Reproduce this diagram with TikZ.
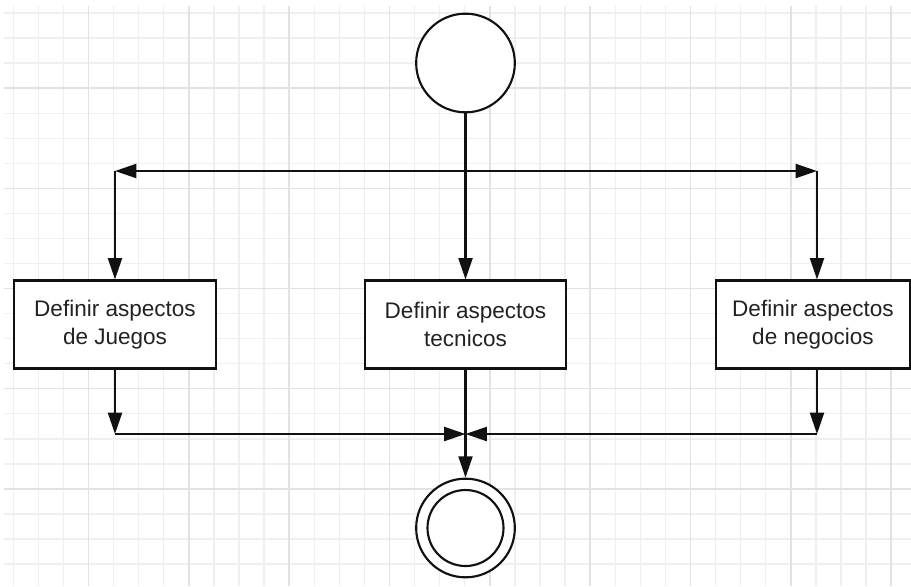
\documentclass[tikz,border=0pt]{standalone}
\usepackage{fontspec}
\setmainfont{Liberation Sans}
\usetikzlibrary{arrows.meta}
\definecolor{gridminor}{HTML}{EFEFEF}
\definecolor{gridmajor}{HTML}{E2E2E2}
\definecolor{ink}{HTML}{111111}
\definecolor{txt}{HTML}{222222}
\begin{document}
\begin{tikzpicture}[x=0.75pt,y=-0.75pt,
  minorline/.style={draw=gridminor,line width=1pt},
  majorline/.style={draw=gridmajor,line width=1.1pt},
  conn/.style={draw=ink,line width=1.6pt,-{Triangle[length=16pt,width=10.5pt]}},
  biconn/.style={draw=ink,line width=1.6pt,{Triangle[length=16pt,width=10.5pt]}-{Triangle[length=16pt,width=10.5pt]}},
  state/.style={circle,draw=ink,line width=1.6pt,fill=white,minimum size=74pt,inner sep=0pt},
  activity/.style={rectangle,draw=ink,line width=1.6pt,fill=white,minimum width=151pt,minimum height=66pt,
    align=center,inner sep=0pt,text=txt,font=\fontsize{16.9}{21}\selectfont}]
\useasboundingbox (0,0) rectangle (911,586);
\fill[white] (0,0) rectangle (911,586);
% background grid
\foreach \k in {0,...,35}{
  \pgfmathsetmacro\gx{13.3+25.08*\k}
  \draw[minorline] (\gx,6) -- (\gx,586);
}
\foreach \k in {0,...,22}{
  \pgfmathsetmacro\gy{13+25.05*\k}
  \draw[minorline] (4,\gy) -- (911,\gy);
}
\foreach \k in {3,7,...,35}{
  \pgfmathsetmacro\gx{13.3+25.08*\k}
  \draw[majorline] (\gx,6) -- (\gx,586);
}
\foreach \k in {3,7,...,19}{
  \pgfmathsetmacro\gy{13+25.05*\k}
  \draw[majorline] (4,\gy) -- (911,\gy);
}
% states and activities
\node[state] (s) at (465.5,63) {};
\node[activity] (j) at (115,324.5) {Definir aspectos\\de Juegos};
\node[activity] (t) at (465.5,324.5) {Definir aspectos\\tecnicos};
\node[activity,minimum width=145.5pt] (n) at (813,324.5) {Definir aspectos\\de negocios};
\node[state] (e) at (465.5,528) {};
\draw[ink,line width=1.6pt] (e.center) circle[radius=28.5pt];
% fork
\coordinate (fl) at (115,171);
\coordinate (fr) at (817,171);
\draw[biconn] (fl) -- (fr);
\draw[conn] (s) -- (t);
\draw[conn] (fl) -- (fl |- j.north);
\draw[conn] (fr) -- (fr |- n.north);
% join
\coordinate (jl) at (115,434);
\coordinate (jm) at (465.5,434);
\coordinate (jr) at (817,434);
\draw[conn] (j.south -| jl) -- (jl);
\draw[conn] (n.south -| jr) -- (jr);
\draw[conn] (jl) -- (jm);
\draw[conn] (jr) -- (jm);
\draw[conn] (t) -- (e);
\end{tikzpicture}
\end{document}
